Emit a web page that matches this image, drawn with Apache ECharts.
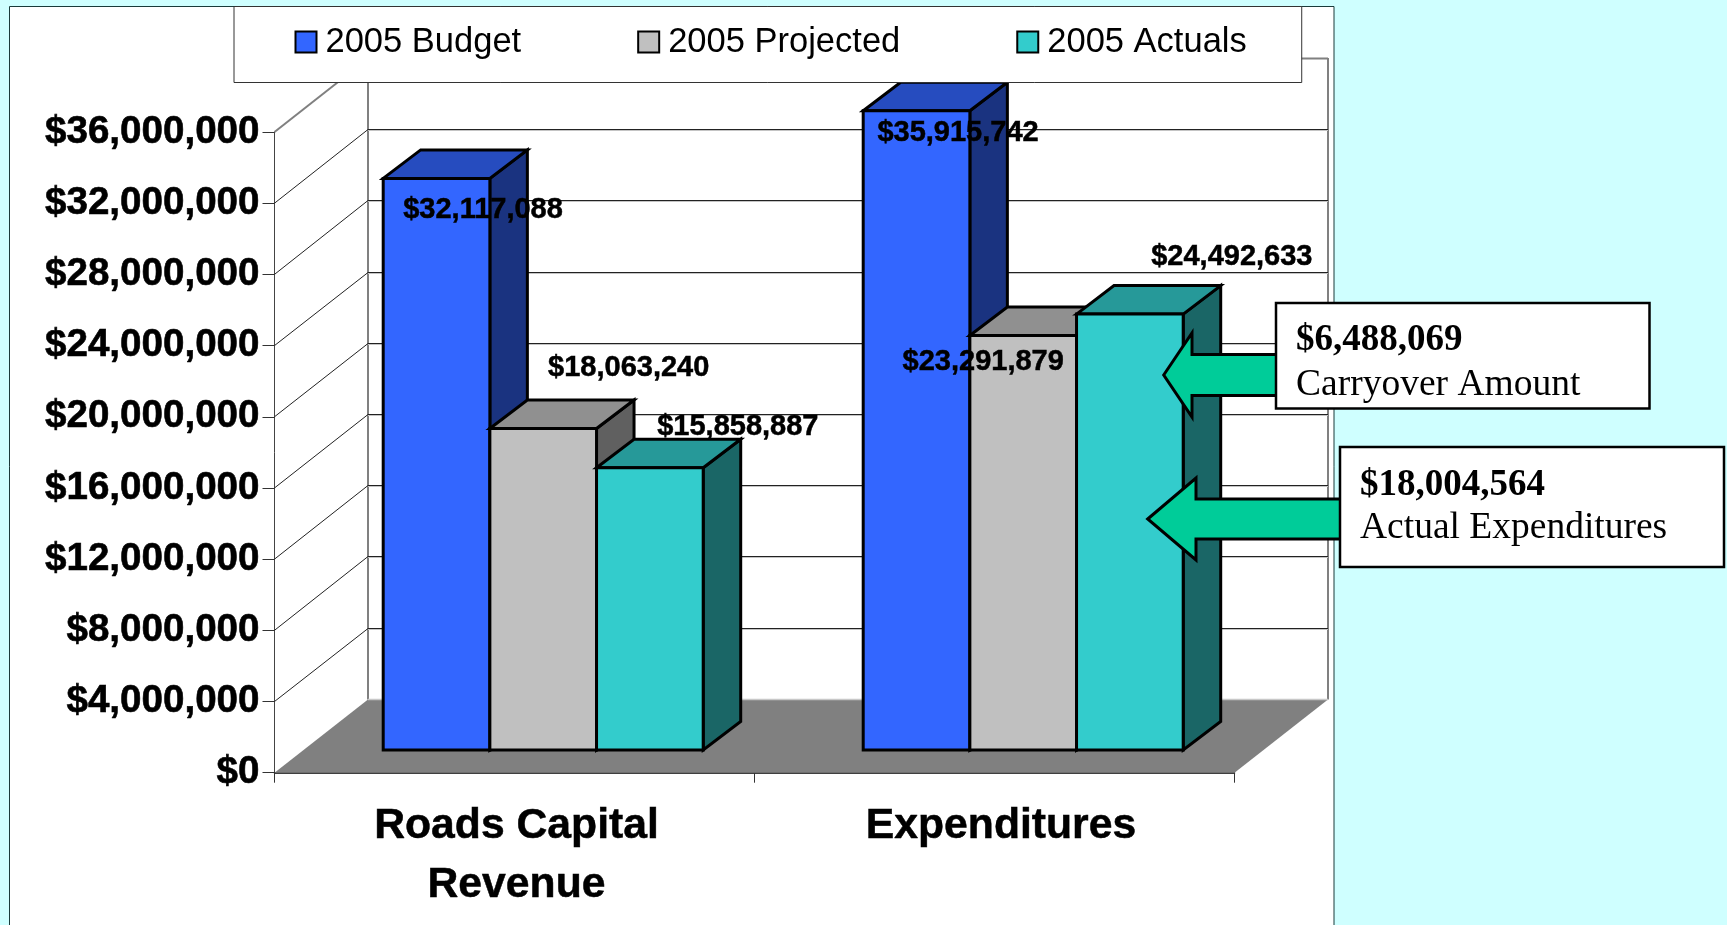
<!DOCTYPE html>
<html><head><meta charset="utf-8">
<style>html,body{margin:0;padding:0;background:#CFFFFF}#c{width:1727px;height:925px}</style>
<script src="https://cdn.jsdelivr.net/npm/echarts@6/dist/echarts.min.js"></script>
</head><body><div id="c"></div>
<script>
const categories = ['Roads Capital\nRevenue', 'Expenditures'];
const budget2005 = [32117088, 35915742];
const projected2005 = [18063240, 23291879];
const actuals2005 = [15858887, 24492633];
const yTicks = [0, 4000000, 8000000, 12000000, 16000000, 20000000, 24000000, 28000000, 32000000, 36000000];

// label placement relative to each bar's front-top centre (px)
const budgetLabelOffset = [[46.5, 32], [41.5, 22.5]];
const projectedLabelOffset = [[85.5, -60.5], [-40, 27]];
const actualsLabelOffset = [[88, -41], [102, -57]];

const SANS = '"Liberation Sans", Arial, sans-serif';
const SERIF = '"Liberation Serif", "Times New Roman", serif';
const WALL = [93.5, -74];     // chart box depth
const BAR_SHIFT = [28.7, -22.7]; // bar front plane inside the depth
const BAR_DEPTH = [37.5, -28.5];

function frameItem(params, api) {
  const v = api.value(0);
  const cs = params.coordSys;
  const y = api.coord([0, v])[1];
  const xL = cs.x, xR = cs.x + cs.width;
  const bx = xL + WALL[0], by = Math.round(y + WALL[1]) + 0.5, ex = xR + WALL[0];
  const children = [];
  if (v === 0) {
    children.push({ type: 'polygon', shape: { points: [[xL, y], [bx, by], [ex, by], [xR, y]] }, style: { fill: '#808080' } });
    const topY = api.coord([0, yTicks[yTicks.length - 1]])[1] + WALL[1];
    children.push({ type: 'line', shape: { x1: bx, y1: topY, x2: bx, y2: by }, style: { stroke: '#808080', lineWidth: 2 } });
    children.push({ type: 'line', shape: { x1: ex, y1: topY, x2: ex, y2: by }, style: { stroke: '#808080', lineWidth: 2 } });
    children.push({ type: 'line', shape: { x1: bx, y1: by, x2: ex, y2: by }, style: { stroke: '#c8c8c8', lineWidth: 1.5 } });
    return { type: 'group', children };
  }
  const top = v === yTicks[yTicks.length - 1];
  children.push({ type: 'line', shape: { x1: xL, y1: y, x2: bx, y2: by }, style: { stroke: top ? '#808080' : '#222', lineWidth: top ? 2 : 1 } });
  if (!top) children.push({ type: 'line', shape: { x1: bx, y1: by + 1, x2: ex, y2: by + 1 }, style: { stroke: '#c4c4c4', lineWidth: 1 } });
  children.push({ type: 'line', shape: { x1: bx, y1: by, x2: ex, y2: by }, style: { stroke: top ? '#808080' : '#222', lineWidth: top ? 2 : 1 } });
  return { type: 'group', children };
}

function barItem(seriesPos, face, top, side, offsets) {
  return function (params, api) {
    const k = api.value(0), v = api.value(1);
    const catW = api.size([1, 0])[0];
    const w = catW * 2 / 9;
    const p = api.coord([k, v]), b = api.coord([k, 0]);
    const x0 = p[0] + BAR_SHIFT[0] + (seriesPos - 1.5) * w;
    const x1 = x0 + w;
    const yT = p[1] + BAR_SHIFT[1], yB = b[1] + BAR_SHIFT[1];
    const dx = BAR_DEPTH[0], dy = BAR_DEPTH[1];
    const st = { stroke: '#000', lineWidth: 3, lineJoin: 'miter' };
    const off = offsets[k];
    return {
      type: 'group', children: [
        { type: 'polygon', shape: { points: [[x1, yT], [x1 + dx, yT + dy], [x1 + dx, yB + dy], [x1, yB]] }, style: Object.assign({ fill: side }, st) },
        { type: 'polygon', shape: { points: [[x0, yT], [x0 + dx, yT + dy], [x1 + dx, yT + dy], [x1, yT]] }, style: Object.assign({ fill: top }, st) },
        { type: 'rect', shape: { x: x0, y: yT, width: w, height: yB - yT }, style: Object.assign({ fill: face }, st) },
        { type: 'text', z2: 100, x: (x0 + x1) / 2 + off[0], y: yT + off[1], style: {
            text: '$' + v.toLocaleString('en-US'), font: 'bold 29px ' + SANS, fill: '#000', align: 'center', verticalAlign: 'middle',
            stroke: '#000', lineWidth: 0.5 } }
      ]
    };
  };
}

function catSeries(name, values, pos, c, offsets) {
  return {
    type: 'custom', name, coordinateSystem: 'cartesian2d', z: 2, clip: false, silent: true,
    renderItem: barItem(pos, c[0], c[1], c[2], offsets),
    encode: { x: 0, y: 1 },
    itemStyle: { color: c[0] },
    data: categories.map((_, k) => [k, values[k]])
  };
}

function annotation(box, textX, y1, y2, t1, t2, arrow) {
  return [
    { type: 'polygon', z: 10, shape: { points: arrow }, style: { fill: '#00CC99', stroke: '#000', lineWidth: 3 } },
    { type: 'rect', z: 11, shape: box, style: { fill: '#fff', stroke: '#000', lineWidth: 2.5 } },
    { type: 'text', z: 12, x: textX, y: y1, style: { text: t1, font: 'bold 37px ' + SERIF, fill: '#000', align: 'left', verticalAlign: 'middle' } },
    { type: 'text', z: 12, x: textX, y: y2, style: { text: t2, font: '37.5px ' + SERIF, fill: '#000', align: 'left', verticalAlign: 'middle' } }
  ];
}

const chart = echarts.init(document.getElementById('c'), null, { renderer: 'canvas' });
chart.setOption({
  animation: false,
  backgroundColor: '#CFFFFF',
  grid: { left: 274.5, top: 132, width: 960, height: 640.7, containLabel: false },
  legend: {
    left: 234, top: 6.5, orient: 'horizontal',
    padding: [18, 55, 23, 60.5],
    backgroundColor: '#fff', borderColor: '#333', borderWidth: 1, borderRadius: 0,
    itemWidth: 21, itemHeight: 21, itemGap: 116, icon: 'rect', selectedMode: false,
    textStyle: { fontFamily: SANS, fontSize: 34.5, color: '#000', padding: [0, 0, 0, 4] },
    data: [
      { name: '2005 Budget', itemStyle: { color: '#3366FF', borderColor: '#000', borderWidth: 2 } },
      { name: '2005 Projected', itemStyle: { color: '#C0C0C0', borderColor: '#000', borderWidth: 2 } },
      { name: '2005 Actuals', itemStyle: { color: '#33CCCC', borderColor: '#000', borderWidth: 2 } }
    ]
  },
  xAxis: {
    type: 'category', data: categories, boundaryGap: true,
    axisLine: { show: true, lineStyle: { color: '#000', width: 1.5 } },
    axisTick: { show: true, length: 10, alignWithLabel: false, lineStyle: { color: '#333', width: 1 } },
    splitLine: { show: false },
    axisLabel: {
      margin: 24, interval: 0, color: '#000', fontFamily: SANS, fontWeight: 'bold', fontSize: 42.7, lineHeight: 59,
      padding: [0, 0, 0, 4], textBorderColor: '#000', textBorderWidth: 0.5,
      formatter: (s, i) => i === 1 ? '{b|' + s + '}' : s,
      rich: { b: { fontFamily: SANS, fontWeight: 'bold', fontSize: 42.7, lineHeight: 59, color: '#000', padding: [0, 0, 0, 9], textBorderColor: '#000', textBorderWidth: 0.5 } }
    }
  },
  yAxis: {
    type: 'value', min: 0, max: yTicks[yTicks.length - 1], interval: yTicks[1],
    axisLine: { show: true, lineStyle: { color: '#444', width: 1 } },
    axisTick: { show: true, length: 12, lineStyle: { color: '#333', width: 1 } },
    splitLine: { show: false },
    axisLabel: { margin: 15, color: '#000', fontFamily: SANS, fontWeight: 'bold', fontSize: 38.6, padding: [6, 0, 0, 0],
      textBorderColor: '#000', textBorderWidth: 0.6,
      formatter: v => '$' + Number(v).toLocaleString('en-US') }
  },
  graphic: {
    elements: [
      { type: 'rect', z: -1, shape: { x: 9.5, y: 6.5, width: 1324.5, height: 925 }, style: { fill: '#fff', stroke: '#1a3a3a', lineWidth: 1 } },
      ...annotation({ x: 1276, y: 303, width: 373.5, height: 105.5 }, 1296, 340, 385, '$6,488,069', 'Carryover Amount',
        [[1163.7, 375], [1192, 333], [1192, 354.5], [1280, 354.5], [1280, 395.5], [1192, 395.5], [1192, 417]]),
      ...annotation({ x: 1340, y: 447, width: 384, height: 120 }, 1360, 485, 528, '$18,004,564', 'Actual Expenditures',
        [[1147.7, 519], [1196, 478], [1196, 499], [1344, 499], [1344, 539], [1196, 539], [1196, 560]])
    ]
  },
  series: [
    { type: 'custom', coordinateSystem: 'cartesian2d', z: 1, clip: false, silent: true, renderItem: frameItem,
      encode: { y: 0 }, data: yTicks.map(v => [v]) },
    catSeries('2005 Budget', budget2005, 0, ['#3366FF', '#264CBF', '#1A3380'], budgetLabelOffset),
    catSeries('2005 Projected', projected2005, 1, ['#C0C0C0', '#909090', '#606060'], projectedLabelOffset),
    catSeries('2005 Actuals', actuals2005, 2, ['#33CCCC', '#269999', '#1A6666'], actualsLabelOffset)
  ]
});
</script></body></html>
